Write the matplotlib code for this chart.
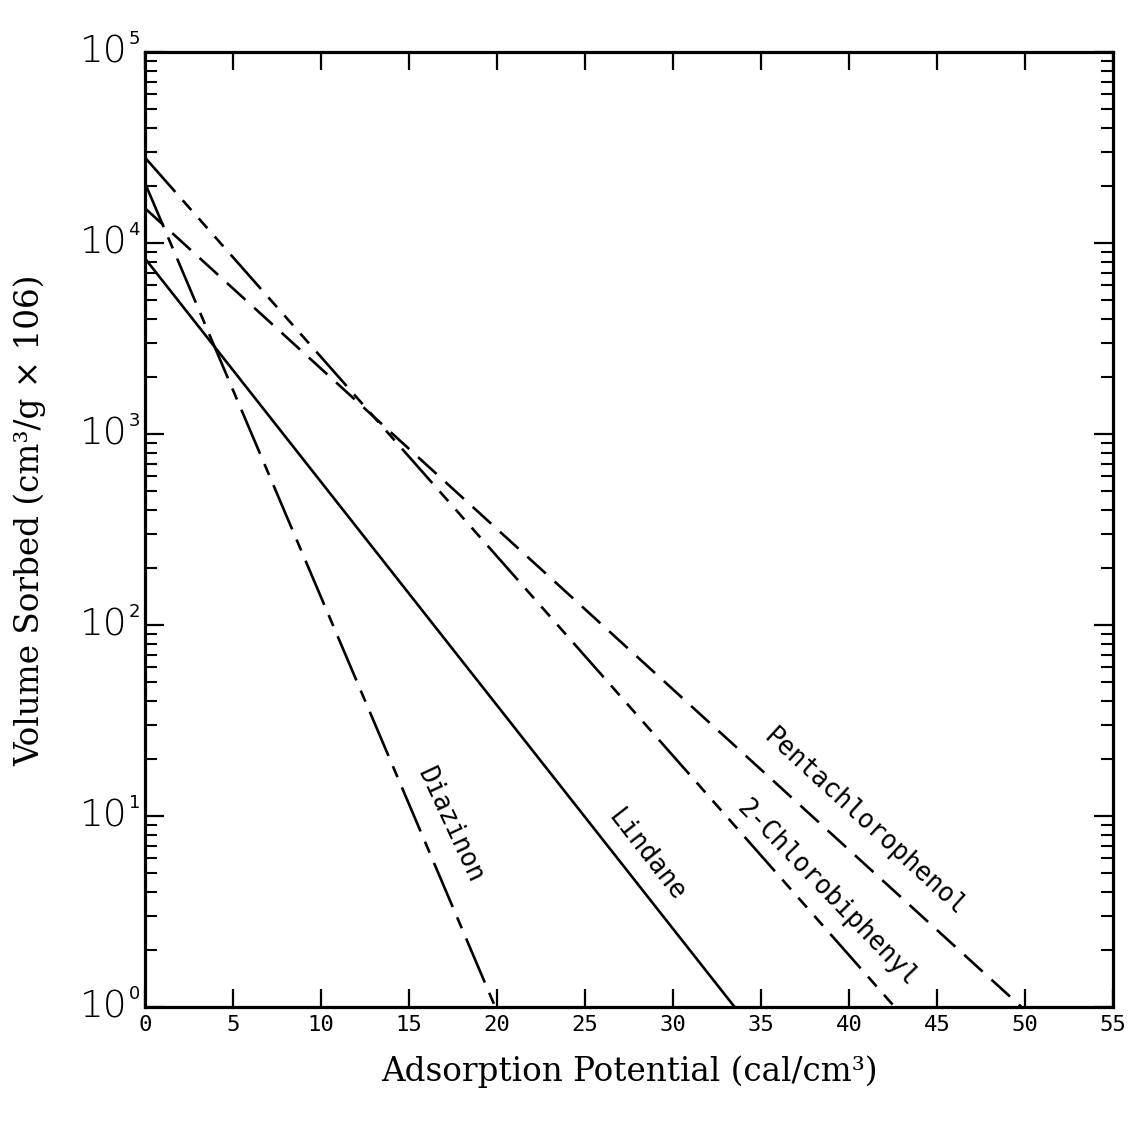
import matplotlib
matplotlib.use("Agg")
import matplotlib.pyplot as plt
import matplotlib.transforms as mtransforms
import numpy as np

# Characteristic curves: log(volume sorbed) falls linearly with adsorption potential.
compounds = ["Pentachlorophenol", "2-Chlorobiphenyl", "Lindane", "Diazinon"]
volume_at_zero = [1.52e4, 2.8e4, 8.3e3, 2.06e4]      # cm3/g x 10^6 at potential 0
potential_at_unit_volume = [49.8, 42.6, 33.5, 19.9]   # cal/cm3 where volume reaches 1

x_ticks = [0, 5, 10, 15, 20, 25, 30, 35, 40, 45, 50, 55]
x_tick_labels = ["0", "5", "10", "15", "20", "25", "30", "35", "40", "45", "50", "55"]
y_tick_values = [1, 10, 100, 1000, 10000, 100000]
y_tick_exponents = ["0", "1", "2", "3", "4", "5"]

# label placement (data coordinates) and text angle for each curve
label_x = [40.9, 38.7, 28.5, 17.3]
label_y = [9.3, 3.95, 6.25, 8.97]
label_rot = [-42.5, -46.0, -52.0, -65.0]

plt.rcParams["lines.scale_dashes"] = False

fig = plt.figure(figsize=(11.44, 11.21), dpi=100)
ax = fig.add_axes([145 / 1144, 114 / 1121, 968 / 1144, 955 / 1121])

line_styles = [
    dict(dashes=(18, 8.6)),
    dict(dashes=(33, 8, 9.4, 8, 9.4, 8, 9.4, 8)),
    dict(linestyle="-"),
    dict(dashes=(34.5, 8, 8.6, 8)),
]

for name, y0, xe, st in zip(compounds, volume_at_zero, potential_at_unit_volume, line_styles):
    ax.plot([0, xe], [y0, 1], color="black", lw=1.9, solid_capstyle="butt",
            dash_capstyle="butt", **st)

for name, lx, ly, rot in zip(compounds, label_x, label_y, label_rot):
    ax.text(lx, ly, name, rotation=rot, rotation_mode="anchor", ha="center",
            va="center", fontsize=18.5, family="DejaVu Sans Mono", color="black")

ax.set_yscale("log")
ax.set_xlim(0, 55)
ax.set_ylim(1, 1e5)

ax.set_xticks(x_ticks)
ax.set_xticklabels(x_tick_labels, family="DejaVu Sans Mono", fontsize=16)
ax.set_yticks(y_tick_values)
ax.set_yticklabels([])
ax.yaxis.set_minor_locator(matplotlib.ticker.LogLocator(base=10, subs=np.arange(2, 10)))
ax.yaxis.set_minor_formatter(matplotlib.ticker.NullFormatter())

ax.tick_params(axis="x", which="major", direction="in", length=13, width=1.6,
               top=True, bottom=True, pad=6)
ax.tick_params(axis="y", which="major", direction="in", length=14, width=1.6,
               left=True, right=True)
ax.tick_params(axis="y", which="minor", direction="in", length=8.5, width=1.5,
               left=True, right=True)

for sp in ax.spines.values():
    sp.set_linewidth(2.3)

# decade labels on the y axis, drawn as base and raised exponent
trans = mtransforms.blended_transform_factory(ax.transAxes, ax.transData)
for val, ex in zip(y_tick_values, y_tick_exponents):
    ax.text(-0.018, val, "10", transform=trans, ha="right", va="center",
            fontsize=27, family="DejaVu Sans", fontweight="light", clip_on=False)
    ax.text(-0.017, val * 10 ** 0.07, ex, transform=trans, ha="left", va="center",
            fontsize=13, family="DejaVu Sans", clip_on=False)

ax.set_xlabel("Adsorption Potential (cal/cm³)", family="DejaVu Serif", fontsize=23.5)
ax.xaxis.label.set_verticalalignment("center")
ax.xaxis.set_label_coords(0.5, -0.068)
ax.set_ylabel("Volume Sorbed (cm³/g × 106)", family="DejaVu Serif", fontsize=23.5)
ax.yaxis.label.set_verticalalignment("center")
ax.yaxis.set_label_coords(-0.119, 0.51)

fig.savefig("out.png", dpi=100)
